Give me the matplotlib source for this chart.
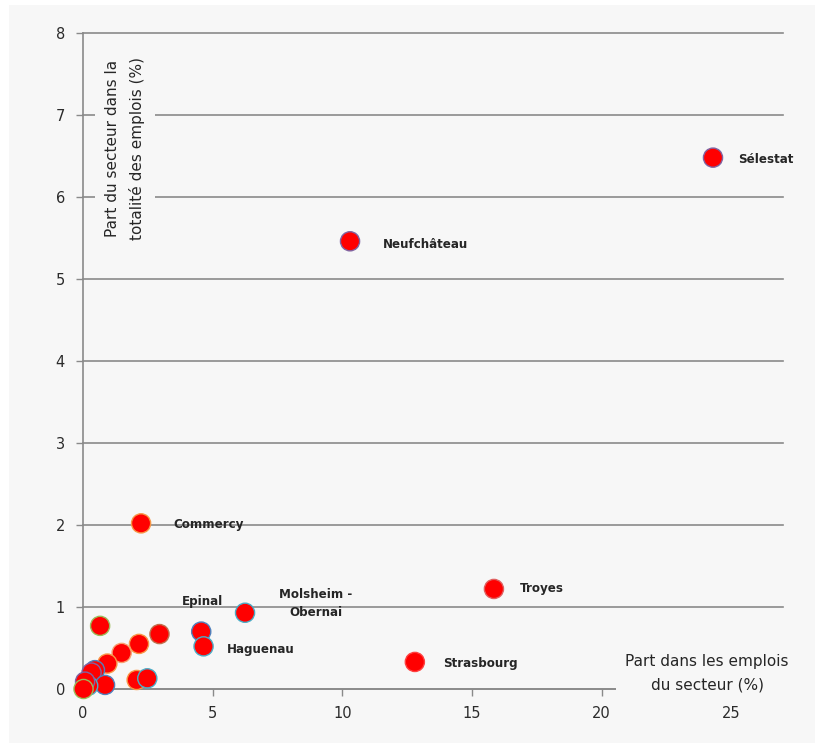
import matplotlib
matplotlib.use("Agg")
import matplotlib.pyplot as plt
from matplotlib.patches import Rectangle

# --- data ------------------------------------------------------------------
share_sector = [24.3, 10.3, 2.24, 15.85, 6.25, 4.56, 4.65, 12.8,
                0.66, 2.95, 2.16, 1.49, 0.94, 0.46, 0.33, 2.07, 2.48,
                0.85, 0.20, 0.08, 0.02]
share_total = [6.48, 5.46, 2.02, 1.22, 0.93, 0.70, 0.52, 0.33,
               0.77, 0.67, 0.55, 0.44, 0.31, 0.23, 0.20, 0.11, 0.13,
               0.05, 0.04, 0.09, 0.00]
edge_colors = ["#8064a2", "#8064a2", "#f79646", "#e06060", "#4bacc6",
               "#4f81bd", "#4bacc6", "#ff4040",
               "#9bbb59", "#c0704d", "#f79646", "#f7a070", "#f79646",
               "#4f81bd", "#8064a2", "#f79646", "#4bacc6",
               "#4f81bd", "#4bacc6", "#8064a2", "#9bbb59"]

labels = ["Sélestat", "Neufchâteau", "Commercy", "Troyes",
          "Molsheim -\nObernai", "Epinal", "Haguenau", "Strasbourg"]
# label offsets in points, and alignment
label_offsets = [(18, -1), (24, -2), (23, -1), (19, 0),
                 (51, 6.5), (1, 22), (17, -2), (20, -1)]
label_ha = ["left", "left", "left", "left", "center", "center", "left", "left"]

x_ticks = [0, 5, 10, 15, 20, 25]
y_ticks = [0, 1, 2, 3, 4, 5, 6, 7, 8]

BG = "#f7f7f7"
GRID = "#8a8a8a"

fig = plt.figure(figsize=(8.22, 7.43), dpi=100, facecolor="white")
fig.add_artist(Rectangle((9 / 822, 0), 806 / 822, 738 / 743,
                         transform=fig.transFigure, facecolor=BG,
                         edgecolor="none", zorder=-10))
ax = fig.add_axes([83 / 822, 54 / 743, 700 / 822, 656 / 743])
ax.set_facecolor("none")

ax.set_xlim(0, 27)
ax.set_ylim(0, 8)
ax.set_xticks(x_ticks)
ax.set_yticks(y_ticks)
ax.tick_params(axis="both", colors=GRID, labelcolor="#2b2b2b",
               labelsize=10.5, length=5, width=1)
ax.tick_params(axis="y", pad=8)
ax.tick_params(axis="x", pad=7)
for s in ["top", "right"]:
    ax.spines[s].set_visible(False)
for s in ["left", "bottom"]:
    ax.spines[s].set_color(GRID)
    ax.spines[s].set_linewidth(1.2)
ax.yaxis.grid(True, color=GRID, linewidth=1.2)
for gl in ax.get_ygridlines():
    gl.set_clip_on(False)
ax.set_axisbelow(True)

ax.scatter(share_sector, share_total, s=190, c="#ff0000",
           edgecolors=edge_colors, linewidths=1.0, zorder=3, clip_on=False)

for i, name in enumerate(labels):
    ax.annotate(name, (share_sector[i], share_total[i]),
                xytext=label_offsets[i], textcoords="offset points",
                ha=label_ha[i], va="center", fontsize=8.6,
                fontweight="bold", color="#262626", linespacing=1.45)

box = dict(facecolor=BG, edgecolor="none", pad=7)
ax.text(24.07, 0.195, "Part dans les emplois\ndu secteur (%)", ha="center",
        va="center", fontsize=11, color="#262626", linespacing=1.7,
        bbox=box, zorder=4, clip_on=False)
ax.text(1.62, 6.59, "Part du secteur dans la\ntotalité des emplois (%)",
        ha="center", va="center", rotation=90, fontsize=11,
        color="#262626", linespacing=1.7, bbox=box, zorder=4)

fig.savefig("out.png", dpi=100, facecolor="white")
